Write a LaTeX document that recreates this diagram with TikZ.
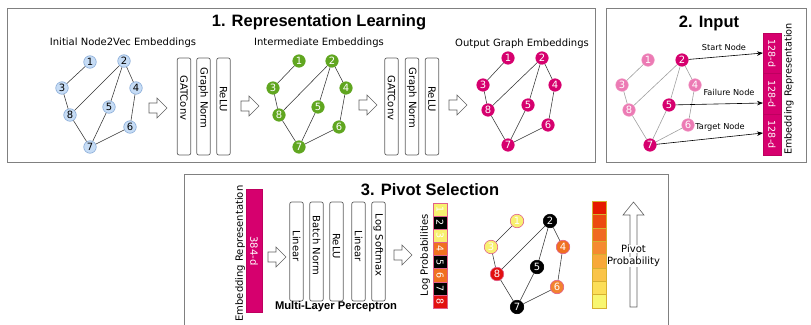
\documentclass[tikz,border=0pt]{standalone}
\usepackage{fontspec}
\setmainfont{DejaVu Sans}
\newfontfamily\arialf{Liberation Sans}
\usetikzlibrary{arrows.meta}
\definecolor{panelc}{rgb}{0.5,0.5,0.5}
\definecolor{boxc}{rgb}{0.38,0.38,0.38}
\definecolor{nblue}{RGB}{198,220,245}
\definecolor{nblueb}{RGB}{135,170,215}
\definecolor{ngreen}{RGB}{96,166,32}
\definecolor{nmag}{RGB}{214,0,110}
\definecolor{nmagb}{RGB}{190,0,95}
\definecolor{npink}{RGB}{236,122,180}
\definecolor{nyel}{RGB}{248,240,112}
\definecolor{nora}{RGB}{240,112,32}
\definecolor{nora2}{RGB}{242,130,48}
\definecolor{nred}{RGB}{226,16,16}
\definecolor{pinkb}{RGB}{224,96,140}
\definecolor{gold}{RGB}{214,176,48}
\definecolor{g1}{RGB}{230,26,0}
\definecolor{g2}{RGB}{236,74,16}
\definecolor{g3}{RGB}{240,106,32}
\definecolor{g4}{RGB}{245,138,48}
\definecolor{g5}{RGB}{248,168,56}
\definecolor{g6}{RGB}{250,196,72}
\definecolor{g7}{RGB}{252,222,88}
\definecolor{g8}{RGB}{248,246,112}
\definecolor{edgegray}{RGB}{160,160,160}
\begin{document}
\begin{tikzpicture}[x=1pt,y=-1pt,
  panel/.style={draw=panelc,line width=0.9pt},
  title/.style={font=\arialf\bfseries\fontsize{16.5}{18}\selectfont},
  lbl/.style={font=\fontsize{10}{12}\selectfont},
  smlbl/.style={font=\fontsize{8.2}{10}\selectfont},
  layer/.style={draw=boxc,line width=0.7pt,rounded corners=2pt,minimum width=13.5pt,inner sep=0pt},
  layertxt/.style={rotate=-90,font=\fontsize{10}{12}\selectfont,inner sep=0pt},
  harrowpic/.pic={\draw[draw=boxc,fill=white,line width=0.6pt,line join=miter]
     (-9,-5) -- (-1,-5) -- (-1,-10) -- (9,0) -- (-1,10) -- (-1,5) -- (-9,5) -- cycle;},
  gn/.style={circle,minimum size=12.5pt,inner sep=0pt,line width=0.6pt,font=\fontsize{10}{10}\selectfont},
  bn/.style={gn,fill=nblue,draw=nblueb,text=black},
  grn/.style={gn,fill=ngreen,draw=ngreen,text=white},
  mn/.style={gn,fill=nmag,draw=nmag,text=white},
  pn/.style={gn,fill=npink,draw=npink!85!white,text=white},
  qn/.style={gn,minimum size=13.5pt,text=white},
  edge/.style={draw=black!80,line width=0.55pt},
  gedge/.style={draw=edgegray,line width=0.6pt},
  cell/.style={minimum width=14pt,inner sep=0pt,text=white,font=\fontsize{9.5}{10}\selectfont}
]
\useasboundingbox (0,0) rectangle (811,324);

% panels
\draw[panel] (7,8) rectangle (595,162);
\draw[panel] (606,8) rectangle (806,162);
\draw[panel] (184,330) -- (184,174) -- (668,174) -- (668,330);

% titles
\node[title] (t1) at (319,22) {1. Representation Learning};
\node[title] (t2) at (709,23) {2. Input};
\node[title] (t3) at (430,190) {3. Pivot Selection};

% ---------- Panel 1 ----------
\node[lbl] (l1) at (123,43) {Initial Node2Vec Embeddings};
\node[lbl] (l2) at (319,43) {Intermediate Embeddings};
\node[lbl] (l3) at (522,44) {Output Graph Embeddings};

% graph A (blue)
\node[bn] (a1) at (90,62) {1};
\node[bn] (a2) at (124,61) {2};
\node[bn] (a3) at (62,88) {3};
\node[bn] (a4) at (136,88) {4};
\node[bn] (a5) at (109,107) {5};
\node[bn] (a8) at (70,115) {8};
\node[bn] (a6) at (130,127) {6};
\node[bn] (a7) at (90,147) {7};
\foreach \u/\v in {1/3,3/8,8/2,2/5,2/4,4/6,6/7,5/7,8/7} \draw[edge] (a\u) -- (a\v);

% graph B (green)
\node[grn] (b1) at (299,61) {1};
\node[grn] (b2) at (332,61) {2};
\node[grn] (b3) at (273,88) {3};
\node[grn] (b4) at (346,88) {4};
\node[grn] (b5) at (318,107) {5};
\node[grn] (b8) at (279,115) {8};
\node[grn] (b6) at (339,127) {6};
\node[grn] (b7) at (299,147) {7};
\foreach \u/\v in {1/3,3/8,8/2,2/5,2/4,4/6,6/7,5/7,8/7} \draw[edge] (b\u) -- (b\v);

% graph C (magenta)
\node[mn] (c1) at (508,58) {1};
\node[mn] (c2) at (542,58) {2};
\node[mn] (c3) at (483,85) {3};
\node[mn] (c4) at (555,85) {4};
\node[mn] (c5) at (528,105) {5};
\node[mn] (c8) at (488,110) {8};
\node[mn] (c6) at (548,125) {6};
\node[mn] (c7) at (508,145) {7};
\foreach \u/\v in {1/3,3/8,8/2,2/5,2/4,4/6,6/7,5/7,8/7} \draw[edge] (c\u) -- (c\v);

% layer boxes set 1
\node[layer,minimum height=97pt] (L1) at (184,106.5) {};
\node[layer,minimum height=97pt] (L2) at (203.5,106.5) {};
\node[layer,minimum height=97pt] (L3) at (223.5,106.5) {};
\node[layertxt] (L1t) at (184,98) {GATConv};
\node[layertxt] (L2t) at (203.5,98) {Graph Norm};
\node[layertxt] (L3t) at (223.5,99) {ReLU};
% layer boxes set 2
\node[layer,minimum height=97pt] (M1) at (391.5,106.5) {};
\node[layer,minimum height=97pt] (M2) at (412,106.5) {};
\node[layer,minimum height=97pt] (M3) at (432,106.5) {};
\node[layertxt] (M1t) at (391.5,98) {GATConv};
\node[layertxt] (M2t) at (412,98) {Graph Norm};
\node[layertxt] (M3t) at (432,99) {ReLU};

% hollow arrows panel 1
\pic at (158,108) {harrowpic};
\pic at (250,106) {harrowpic};
\pic at (368,105) {harrowpic};
\pic at (458,105) {harrowpic};

% ---------- Panel 2 ----------
\node[pn] (p1) at (648,60) {1};
\node[mn] (p2) at (682,60) {2};
\node[pn] (p3) at (622,85) {3};
\node[pn] (p4) at (695,85) {4};
\node[mn] (p5) at (669,105) {5};
\node[pn] (p8) at (629,110) {8};
\node[pn] (p6) at (688,125) {6};
\node[mn] (p7) at (650,145) {7};
\foreach \u/\v in {1/3,3/8,8/2,2/5,2/4,4/6,6/7,5/7,8/7} \draw[gedge] (p\u) -- (p\v);

% stack
\node[draw=nmagb,fill=nmag,minimum width=18pt,minimum height=40.67pt,inner sep=0pt] (s1) at (772,53.3) {};
\node[draw=nmagb,fill=nmag,minimum width=18pt,minimum height=40.67pt,inner sep=0pt] (s2) at (772,94) {};
\node[draw=nmagb,fill=nmag,minimum width=18pt,minimum height=40.67pt,inner sep=0pt] (s3) at (772,134.7) {};
\node[rotate=-90,text=white,font=\fontsize{9.5}{10}\selectfont] (s1t) at (772,53.3) {128-d};
\node[rotate=-90,text=white,font=\fontsize{9.5}{10}\selectfont] (s2t) at (772,94) {128-d};
\node[rotate=-90,text=white,font=\fontsize{9.5}{10}\selectfont] (s3t) at (772,134.7) {128-d};
\node[rotate=90,font=\fontsize{9.7}{11}\selectfont] (er2) at (789,89) {Embedding Representation};

\coordinate (sa) at (763,53);
\coordinate (fa) at (763,103);
\coordinate (ta) at (763,133);
\draw[line width=0.6pt,-{Stealth[length=6pt,width=4.5pt]}] (p2) -- (sa);
\draw[line width=0.6pt,-{Stealth[length=6pt,width=4.5pt]}] (p5) -- (fa);
\draw[line width=0.6pt,-{Stealth[length=6pt,width=4.5pt]}] (p7) -- (ta);
\node[smlbl] (sl) at (724,47) {Start Node};
\node[smlbl] (fl) at (729,92) {Failure Node};
\node[smlbl] (tl) at (720,127) {Target Node};

% ---------- Panel 3 ----------
\node[fill=nmag,draw=nmagb,minimum width=16pt,minimum height=123pt,inner sep=0pt] (e384) at (254,250.5) {};
\node[rotate=-90,text=white,font=\fontsize{10}{12}\selectfont] (e384t) at (254,251) {384-d};
\node[rotate=90,font=\fontsize{10}{12}\selectfont] (er3) at (240,253.5) {Embedding Representation};

\pic at (277,257) {harrowpic};
\pic at (403,255) {harrowpic};

\node[layer,minimum height=99pt] (N1) at (296.5,251.5) {};
\node[layer,minimum height=99pt] (N2) at (316.5,251.5) {};
\node[layer,minimum height=99pt] (N3) at (336.5,251.5) {};
\node[layer,minimum height=99pt] (N4) at (358.5,251.5) {};
\node[layer,minimum height=99pt] (N5) at (378.5,251.5) {};
\node[layertxt] (N1t) at (296.5,246) {Linear};
\node[layertxt] (N2t) at (316.5,245.5) {Batch Norm};
\node[layertxt] (N3t) at (336.5,246) {ReLU};
\node[layertxt] (N4t) at (358.5,246) {Linear};
\node[layertxt] (N5t) at (378.5,245) {Log Softmax};
\node[font=\arialf\bfseries\fontsize{11.2}{12}\selectfont] (mlp) at (336,307) {Multi-Layer Perceptron};

% log probabilities bar
\node[rotate=90,font=\fontsize{10}{12}\selectfont] (lp) at (425,255) {Log Probabilities};
\foreach \i/\c in {1/nyel,2/black,3/nyel,4/nora,5/black,6/nora,7/black,8/nred}
  \node[cell,fill=\c,draw=pinkb,minimum height=13.125pt] (r\i) at (440,{203+(\i-0.5)*13.125}) {\rotatebox{-90}{\i}};

% graph D
\node[qn,fill=nyel,draw=pinkb] (d1) at (517,221) {1};
\node[qn,fill=black,draw=black] (d2) at (550,221) {2};
\node[qn,fill=nyel,draw=pinkb] (d3) at (491,247) {3};
\node[qn,fill=nora,draw=pinkb] (d4) at (563,247) {4};
\node[qn,fill=black,draw=black] (d5) at (537,267) {5};
\node[qn,fill=nred,draw=pinkb] (d8) at (497,274) {8};
\node[qn,fill=nora2,draw=pinkb] (d6) at (557,287) {6};
\node[qn,fill=black,draw=black] (d7) at (517,307) {7};
\foreach \u/\v in {1/3,3/8,8/2,2/5,2/4,4/6,6/7,5/7,8/7} \draw[edge] (d\u) -- (d\v);

% gradient bar
\foreach \i/\c in {1/g1,2/g2,3/g3,4/g4,5/g5,6/g6,7/g7,8/g8}
  \node[fill=\c,draw=gold,minimum width=14pt,minimum height=13.375pt,inner sep=0pt] (q\i) at (599,{201+(\i-0.5)*13.375}) {};

% pivot probability arrow
\draw[draw=boxc,fill=white,line width=0.6pt,line join=miter]
  (630,307) -- (630,215) -- (623,215) -- (633.5,202) -- (644,215) -- (637,215) -- (637,307) -- cycle;
\node[fill=white,inner sep=0.5pt,font=\fontsize{10}{12}\selectfont] (pv1) at (633.5,249) {Pivot};
\node[fill=white,inner sep=0.5pt,font=\fontsize{10}{12}\selectfont] (pv2) at (633.5,262) {Probability};
\end{tikzpicture}
\end{document}
